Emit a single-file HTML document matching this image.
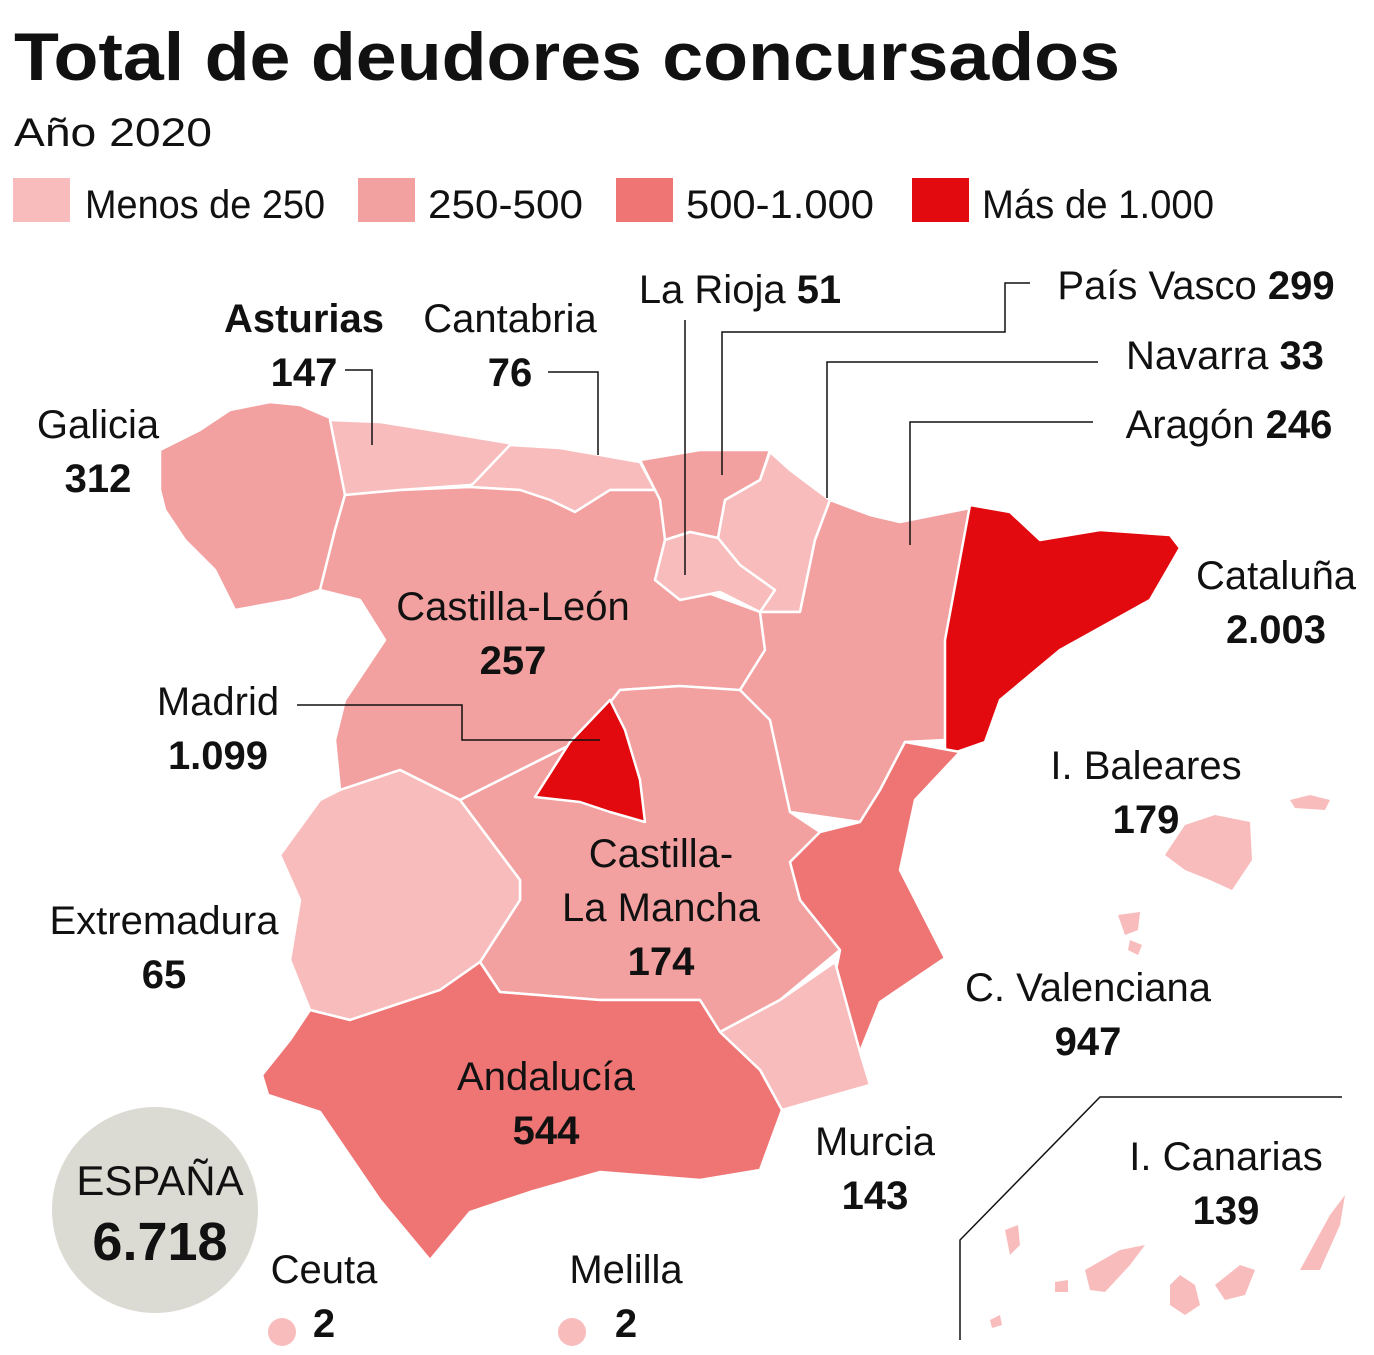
<!DOCTYPE html>
<html><head><meta charset="utf-8"><style>
html,body{margin:0;padding:0;background:#fff;}
svg{display:block;}
text{font-family:"Liberation Sans",sans-serif;fill:#111;}
.b{font-weight:bold;}
</style></head><body>
<svg width="1374" height="1355" viewBox="0 0 1374 1355" xmlns="http://www.w3.org/2000/svg">
<text x="14" y="80" font-size="68" class="b" textLength="1106" lengthAdjust="spacingAndGlyphs">Total de deudores concursados</text>
<text x="14" y="146" font-size="40" textLength="198" lengthAdjust="spacingAndGlyphs">Año 2020</text>
<rect x="13" y="178" width="57" height="44" fill="#f9bcbc"/>
<text x="85" y="218" font-size="40" textLength="240" lengthAdjust="spacingAndGlyphs">Menos de 250</text>
<rect x="358" y="178" width="57" height="44" fill="#f3a0a0"/>
<text x="428" y="218" font-size="40" textLength="155" lengthAdjust="spacingAndGlyphs">250-500</text>
<rect x="616" y="178" width="57" height="44" fill="#ef7575"/>
<text x="686" y="218" font-size="40" textLength="188" lengthAdjust="spacingAndGlyphs">500-1.000</text>
<rect x="912" y="178" width="57" height="44" fill="#e20a0e"/>
<text x="982" y="218" font-size="40" textLength="232" lengthAdjust="spacingAndGlyphs">Más de 1.000</text>

<g stroke="#fff" stroke-width="2.5" stroke-linejoin="round">
<polygon fill="#f3a0a0" points="160,450 200,430 230,410 270,402 300,405 335,420 345,495 335,530 320,590 290,600 235,610 215,570 185,540 165,510 160,490"/>
<polygon fill="#f9bcbc" points="330,420 380,422 430,430 520,445 510,470 470,485 400,490 345,495"/>
<polygon fill="#f9bcbc" points="510,445 560,448 600,455 640,462 655,490 610,490 575,512 550,500 520,490 470,487"/>
<polygon fill="#f3a0a0" points="640,460 700,450 770,450 760,480 725,500 718,538 690,532 665,540 660,500 655,490"/>
<polygon fill="#f3a0a0" points="345,495 400,490 470,487 520,490 550,500 575,512 610,490 655,490 660,500 665,540 655,580 700,590 760,612 765,650 740,690 720,700 680,686 620,690 580,740 540,760 460,800 400,770 340,790 335,740 345,700 385,640 360,600 320,590 335,530"/>
<polygon fill="#f9bcbc" points="725,500 760,480 770,452 790,470 830,500 815,540 800,612 760,612 740,565 718,538"/>
<polygon fill="#f9bcbc" points="665,540 690,532 718,538 740,565 775,590 760,612 720,592 680,600 655,580"/>
<polygon fill="#f3a0a0" points="830,500 870,515 900,522 970,508 950,620 945,740 905,742 880,790 860,822 790,812 770,760 740,690 765,650 760,612 800,612 815,540"/>
<polygon fill="#e20a0e" points="970,505 1010,512 1040,540 1100,530 1170,535 1180,548 1150,600 1060,650 1000,700 985,742 945,756 945,640"/>
<polygon fill="#f3a0a0" points="620,690 680,686 740,690 770,720 790,812 820,832 800,900 840,950 780,1000 720,1032 700,1000 600,1000 500,992 480,962 520,900 520,880 460,800 540,760 580,740"/>
<polygon fill="#e20a0e" points="610,700 625,730 640,780 645,822 610,812 580,802 535,797 570,742"/>
<polygon fill="#f9bcbc" points="340,790 400,770 460,800 520,880 520,900 480,962 440,990 350,1020 310,1010 290,960 300,900 280,855 320,800"/>
<polygon fill="#ef7575" points="905,742 960,752 915,800 900,870 945,958 880,1002 860,1052 830,1000 840,950 800,900 790,862 820,832 860,822 880,790"/>
<polygon fill="#f9bcbc" points="720,1032 780,1000 835,962 860,1052 870,1085 782,1110 760,1070"/>
<polygon fill="#ef7575" points="310,1010 350,1020 440,990 480,962 500,992 600,1000 700,1000 720,1032 760,1070 782,1110 760,1170 700,1180 600,1172 530,1192 470,1212 430,1260 380,1200 320,1112 268,1095 262,1075 290,1040"/>
</g>
<g fill="#f9bcbc">
<polygon points="1165,855 1185,825 1215,815 1250,822 1252,860 1232,890 1210,880 1185,870"/>
<polygon points="1290,800 1310,795 1330,800 1325,810 1295,808"/>
<polygon points="1118,915 1140,912 1138,930 1125,935"/>
<polygon points="1130,940 1142,945 1138,955 1128,950"/>
</g>
<g fill="#f9bcbc">
<polygon points="1300,1270 1330,1215 1345,1195 1340,1225 1320,1270"/>
<polygon points="1215,1285 1240,1265 1255,1270 1245,1295 1225,1300"/>
<polygon points="1170,1285 1180,1275 1195,1285 1200,1305 1185,1315 1170,1305"/>
<polygon points="1085,1270 1120,1250 1145,1245 1130,1265 1105,1292 1090,1290"/>
<polygon points="1005,1230 1018,1225 1020,1245 1010,1255"/>
<polygon points="1055,1282 1068,1280 1068,1292 1055,1292"/>
<polygon points="990,1320 1000,1315 1002,1325 992,1328"/>
</g>

<g stroke="#111" stroke-width="1.5" fill="none">
<polyline points="345,370 372,370 372,445"/>
<polyline points="548,372 598,372 598,455"/>
<polyline points="685,320 685,575"/>
<polyline points="1030,283 1005,283 1005,332 722,332 722,475"/>
<polyline points="1098,362 827,362 827,498"/>
<polyline points="1093,422 910,422 910,545"/>
<polyline points="297,705 462,705 462,740 600,740"/>
<polyline points="960,1340 960,1240 1100,1097 1342,1097"/>
</g>

<circle cx="155" cy="1210" r="103" fill="#dcdbd3"/>
<text x="160" y="1195" font-size="42" text-anchor="middle">ESPAÑA</text>
<text x="160" y="1260" font-size="54" class="b" text-anchor="middle">6.718</text>
<circle cx="282" cy="1332" r="14" fill="#f9bcbc"/>
<circle cx="572" cy="1332" r="14" fill="#f9bcbc"/>

<g font-size="40" text-anchor="middle">
<text x="304" y="332" class="b">Asturias</text><text x="304" y="386" class="b">147</text>
<text x="510" y="332">Cantabria</text><text x="510" y="386" class="b">76</text>
<text x="98" y="438">Galicia</text><text x="98" y="492" class="b">312</text>
<text x="740" y="303">La Rioja <tspan class="b">51</tspan></text>
<text x="1196" y="299">País Vasco <tspan class="b">299</tspan></text>
<text x="1225" y="369">Navarra <tspan class="b">33</tspan></text>
<text x="1229" y="438">Aragón <tspan class="b">246</tspan></text>
<text x="513" y="620">Castilla-León</text><text x="513" y="674" class="b">257</text>
<text x="218" y="715">Madrid</text><text x="218" y="769" class="b">1.099</text>
<text x="1276" y="589">Cataluña</text><text x="1276" y="643" class="b">2.003</text>
<text x="1146" y="779">I. Baleares</text><text x="1146" y="833" class="b">179</text>
<text x="661" y="867">Castilla-</text><text x="661" y="921">La Mancha</text><text x="661" y="975" class="b">174</text>
<text x="164" y="934">Extremadura</text><text x="164" y="988" class="b">65</text>
<text x="1088" y="1001">C. Valenciana</text><text x="1088" y="1055" class="b">947</text>
<text x="546" y="1090">Andalucía</text><text x="546" y="1144" class="b">544</text>
<text x="875" y="1155">Murcia</text><text x="875" y="1209" class="b">143</text>
<text x="1226" y="1170">I. Canarias</text><text x="1226" y="1224" class="b">139</text>
<text x="324" y="1283">Ceuta</text><text x="324" y="1337" class="b">2</text>
<text x="626" y="1283">Melilla</text><text x="626" y="1337" class="b">2</text>
</g>
</svg>
</body></html>
